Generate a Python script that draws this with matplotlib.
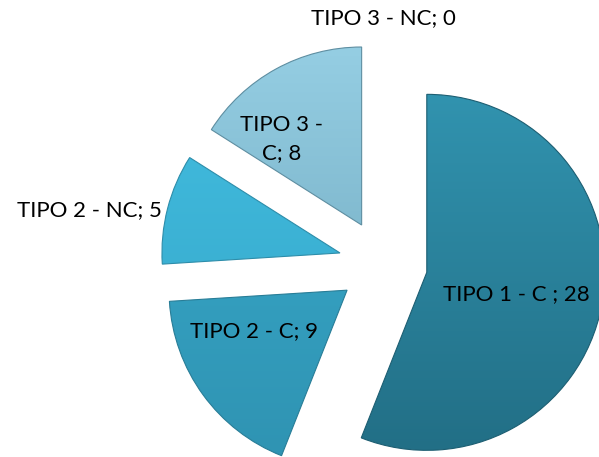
import numpy as np
import matplotlib
matplotlib.use("Agg")
import matplotlib.pyplot as plt
import matplotlib.colors as mcolors

categories = ["TIPO 1 - C ", "TIPO 2 - C", "TIPO 2 - NC", "TIPO 3 - C", "TIPO 3 - NC"]
values = [28, 9, 5, 8, 0]
label_text = ["TIPO 1 - C ; 28", "TIPO 2 - C; 9", "TIPO 2 - NC; 5", "TIPO 3 -\nC; 8", "TIPO 3 - NC; 0"]

# gradient top / bottom per slice
top_colors = ["#3193af", "#38a9ca", "#42bde0", "#95cee3", "#95cee3"]
bottom_colors = ["#226f86", "#2f93b2", "#35a6c8", "#6ea7bd", "#6ea7bd"]

# label placement: (distance from wedge apex, angle offset from mid, ha)
label_pos = [(0.52, -3, "center"), (0.57, -12, "center"), (1.03, 1, "right"),
             (0.66, 14, "center"), (1.13, 0, "center")]

plt.rcParams["font.family"] = ["Lato", "DejaVu Sans"]

fig = plt.figure(figsize=(5.99, 4.57), dpi=100)
ax = fig.add_axes([0, 0, 1, 1])

wedges, _ = ax.pie(values, startangle=90, counterclock=False,
                   explode=[0.25] * len(values), radius=1.0,
                   colors=top_colors,
                   wedgeprops=dict(linewidth=0.8, edgecolor="#1f6478"))

for i, w in enumerate(wedges):
    cx, cy = w.center
    cmap = mcolors.LinearSegmentedColormap.from_list("g", [bottom_colors[i], top_colors[i]])
    if values[i] > 0:
        grad = np.linspace(0, 1, 256).reshape(-1, 1)
        img = ax.imshow(grad, cmap=cmap, origin="lower", aspect="auto",
                        extent=[cx - 1, cx + 1, cy - 1, cy + 1], zorder=w.get_zorder() + 0.1)
        img.set_clip_path(w)
        w.set_edgecolor(mcolors.to_hex(np.array(mcolors.to_rgb(bottom_colors[i])) * 0.85))
        w.set_zorder(w.get_zorder() + 0.2)
        w.set_facecolor("none")
    else:
        w.set_visible(False)
    mid = (w.theta1 + w.theta2) / 2.0
    d, off, ha = label_pos[i]
    ang = np.deg2rad(mid + off)
    ax.text(cx + d * np.cos(ang), cy + d * np.sin(ang), label_text[i],
            ha=ha, va="center", fontsize=16, color="black", zorder=10,
            linespacing=1.5)

ax.set_xlim(-2.152, 1.213)
ax.set_ylim(-1.084, 1.483)
ax.set_aspect("equal")
ax.axis("off")

fig.savefig("out.png", dpi=100)
